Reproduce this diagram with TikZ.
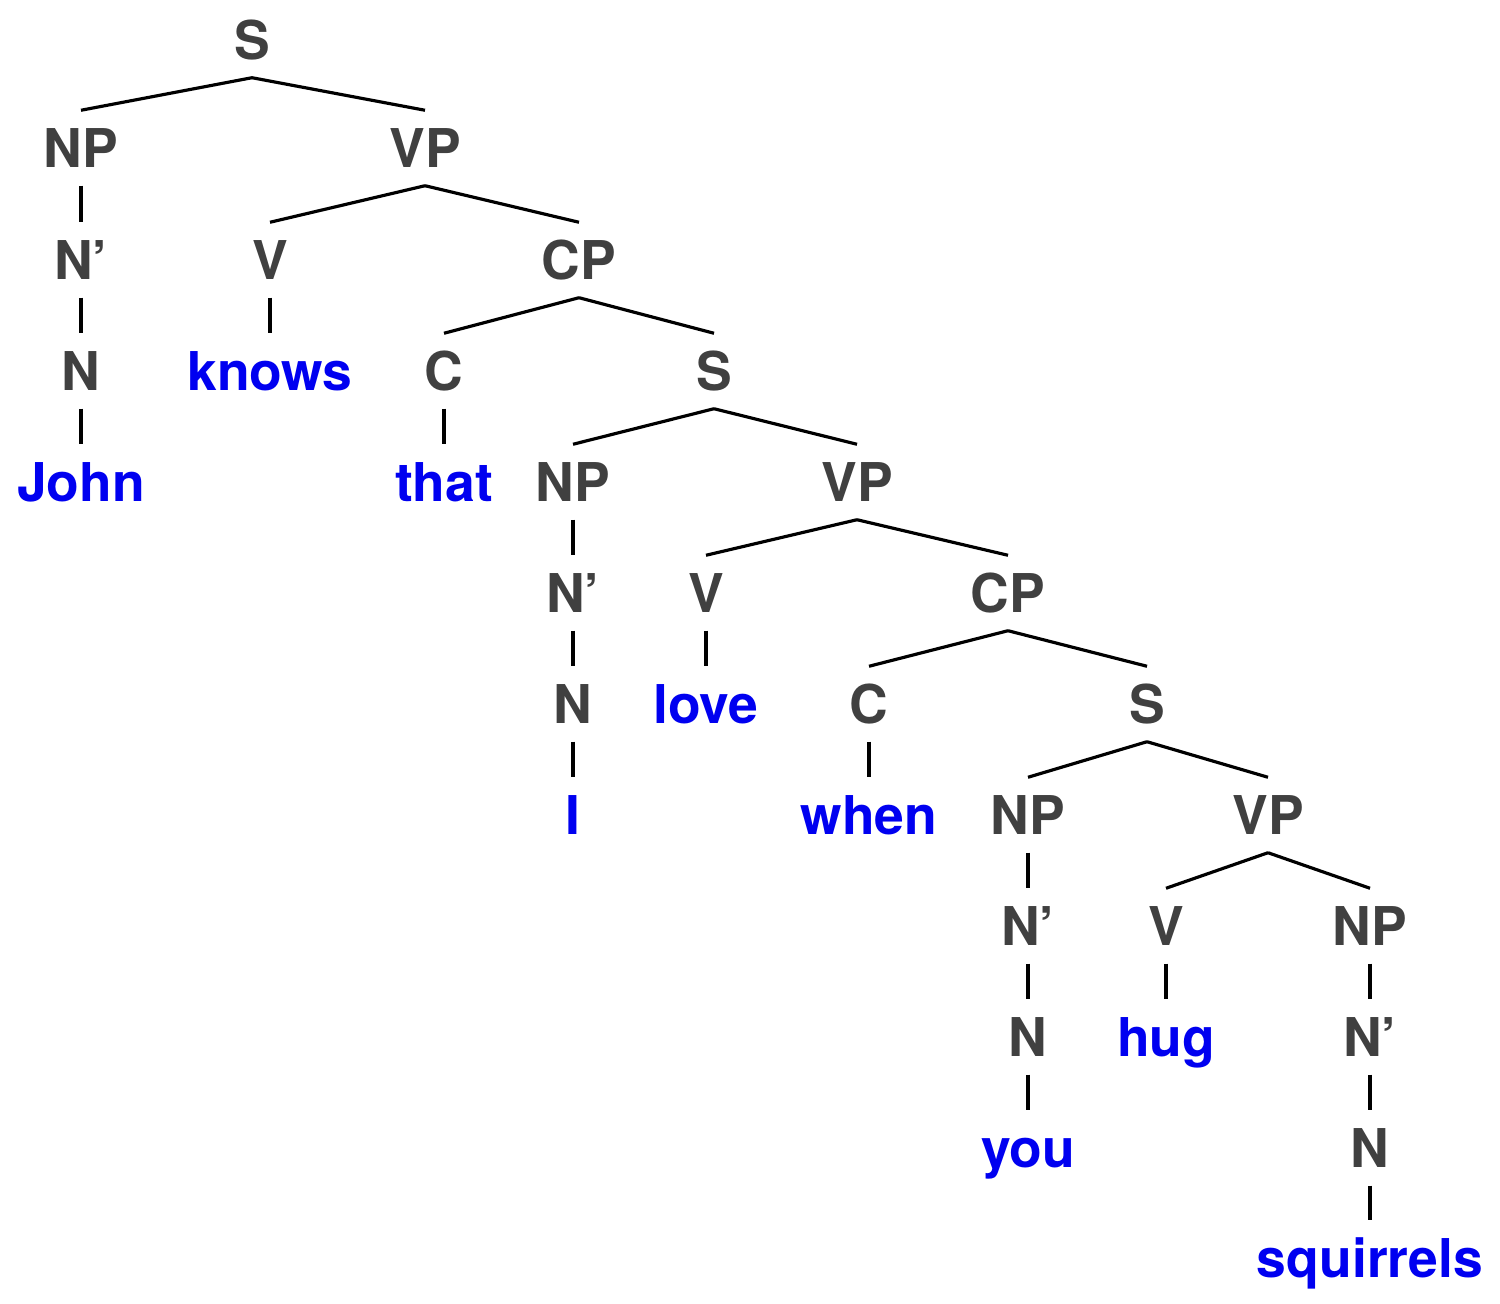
\documentclass[tikz,border=0pt]{standalone}
\usepackage{fontspec}
\setmainfont{TeX Gyre Heros}
\usepackage{xcolor}
\definecolor{catgrey}{HTML}{404040}
\definecolor{wordblue}{HTML}{0000F0}
\tikzset{
  cat/.style={text=catgrey, font=\fontsize{15.2}{18}\selectfont\bfseries, inner sep=0, text height=0.385cm, text depth=0, minimum height=0.74cm},
  word/.style={cat, text=wordblue},
  branch/.style={line width=0.9pt}
}
\begin{document}
\begin{tikzpicture}[x=0.01cm, y=-0.01cm]
\useasboundingbox (0,0) rectangle (1500,1304);
% top clause
\node[cat] (s1) at (252,40) {S};
\node[cat] (np1) at (81,148) {NP}; \node[cat] (vp1) at (425,148) {VP};
\node[cat] (nb1) at (81,260) {N’}; \node[cat] (v1) at (270,260) {V}; \node[cat] (cp1) at (579,260) {CP};
\node[cat] (n1) at (81,371) {N}; \node[word] (w1) at (270,371) {knows}; \node[cat] (c1) at (444,371) {C}; \node[cat] (s2) at (714,371) {S};
\node[word] (john) at (81,482) {John}; \node[word] (that) at (444,482) {that};
% middle clause
\node[cat] (np2) at (573,482) {NP}; \node[cat] (vp2) at (857,482) {VP};
\node[cat] (nb2) at (573,593) {N’}; \node[cat] (v2) at (706,593) {V}; \node[cat] (cp2) at (1008,593) {CP};
\node[cat] (n2) at (573,704) {N}; \node[word] (love) at (706,704) {love}; \node[cat] (c2) at (869,704) {C}; \node[cat] (s3) at (1147,704) {S};
\node[word] (i) at (573,815) {I}; \node[word] (when) at (869,815) {when};
% bottom clause
\node[cat] (np3) at (1028,815) {NP}; \node[cat] (vp3) at (1268,815) {VP};
\node[cat] (nb3) at (1028,926) {N’}; \node[cat] (v3) at (1166,926) {V}; \node[cat] (np4) at (1370,926) {NP};
\node[cat] (n3) at (1028,1037) {N}; \node[word] (hug) at (1166,1037) {hug}; \node[cat] (nb4) at (1370,1037) {N’};
\node[word] (you) at (1028,1148) {you}; \node[cat] (n4) at (1370,1148) {N};
\node[word] (sq) at (1370,1258) {squirrels};
% branches
\foreach \a/\b in {s1/np1, s1/vp1, np1/nb1, nb1/n1, n1/john, vp1/v1, vp1/cp1, v1/w1,
  cp1/c1, cp1/s2, c1/that, s2/np2, s2/vp2, np2/nb2, nb2/n2, n2/i, vp2/v2, vp2/cp2, v2/love,
  cp2/c2, cp2/s3, c2/when, s3/np3, s3/vp3, np3/nb3, nb3/n3, n3/you, vp3/v3, vp3/np4, v3/hug,
  np4/nb4, nb4/n4, n4/sq}
  \draw[branch] (\a.south) -- (\b.north);
\end{tikzpicture}
\end{document}
